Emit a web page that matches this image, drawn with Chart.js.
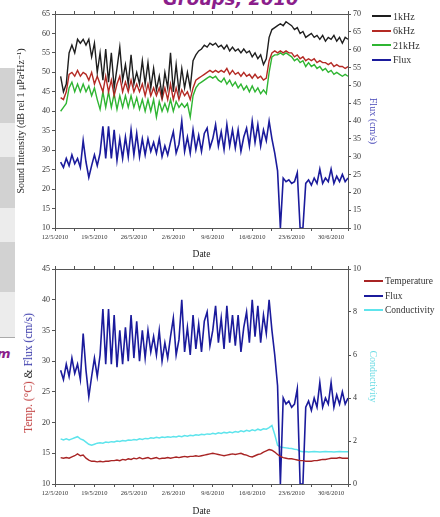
<!DOCTYPE html>
<html>
<head>
<meta charset="utf-8">
<title>Sound intensity, flux, temperature and conductivity</title>
<script src="https://cdn.jsdelivr.net/npm/chart.js@4.4.1/dist/chart.umd.min.js"></script>
<style>
  html, body { margin: 0; padding: 0; background: #fff; }
  body { width: 440px; height: 517px; position: relative; overflow: hidden; font-family: "Liberation Serif", "DejaVu Serif", serif; }
  .wrap { position: absolute; left: 0; width: 440px; }
  #top-wrap { top: 0; height: 260px; }
  #bottom-wrap { top: 260px; height: 257px; }
  .legend { position: absolute; font-size: 10px; color: #333; }
  .legend-row { display: flex; align-items: center; height: 14.5px; white-space: nowrap; }
  .legend-line { display: inline-block; width: 19px; height: 1.6px; margin-right: 2px; }
  #top-legend { left: 372px; top: 9px; }
  #bottom-legend { left: 364px; top: 274px; font-size: 9.5px; }
  #left-title { position: absolute; left: 28px; top: 373px; transform: translate(-50%, -50%) rotate(-90deg);
                white-space: nowrap; font-size: 11.5px; color: #222; }
  .stripe { position: absolute; left: 0; width: 15px; }
  .slide-text { position: absolute; color: #8b1e8b; font-weight: bold; font-style: italic; white-space: nowrap; font-family: "DejaVu Sans", sans-serif; line-height: 1; }
</style>
</head>
<body>
<!-- restos de la diapositiva de fondo -->
<div class="stripe" style="top:68px;height:55px;background:#d2d2d2"></div>
<div class="stripe" style="top:123px;height:34px;background:#ececec"></div>
<div class="stripe" style="top:157px;height:51px;background:#d2d2d2"></div>
<div class="stripe" style="top:208px;height:34px;background:#ececec"></div>
<div class="stripe" style="top:242px;height:50px;background:#d2d2d2"></div>
<div class="stripe" style="top:292px;height:45px;background:#ececec;border-bottom:1px solid #aaa"></div>
<div class="slide-text" style="left:163px;top:-10px;font-size:18px">Groups, 2010</div>
<div class="slide-text" style="left:-3px;top:347px;font-size:13px">m</div>

<div class="wrap" id="top-wrap"><canvas id="chart-sound"></canvas></div>
<div class="wrap" id="bottom-wrap"><canvas id="chart-temp"></canvas></div>
<div class="legend" id="top-legend"></div>
<div class="legend" id="bottom-legend"></div>
<div id="left-title"><span style="color:#c03a3a">Temp. (°C)</span> &amp; <span style="color:#3434a8">Flux (cm/s)</span></div>

<script>
// Etiquetas del eje de fechas (cada 7 días desde 12/5/2010)
const dateLabels = ["12/5/2010", "19/5/2010", "26/5/2010", "2/6/2010", "9/6/2010", "16/6/2010", "23/6/2010", "30/6/2010"];

// días desde 12/5/2010, una lectura cada medio día (1 .. 52)
const days = [];
for (let d = 1; d <= 52; d += 0.5) days.push(d);

// Intensidad sonora (dB rel 1 µPa²Hz⁻¹)
const sound1k = [
  49, 45, 47, 55, 57, 55, 58.5, 57.5, 58.5, 57,
  58.5, 54, 57.5, 50, 55, 48, 56, 47.5, 55, 46,
  51, 56.5, 48, 52, 47, 54.5, 47, 50, 47, 53,
  47, 52.5, 46, 51, 45.5, 49, 44, 50, 46, 55,
  45, 52, 45, 51, 46, 50, 46, 53, 54.5, 55.5,
  56, 57, 56.5, 57.5, 57, 57.5, 56.5, 57, 56, 57,
  55.5, 56.5, 55.5, 56, 55, 56, 55, 55.5, 54, 55,
  53.5, 54.5, 52, 53.5, 59, 61, 61.5, 62, 62.5, 62,
  63, 62.5, 62, 61, 61.5, 60, 60.5, 59, 59.5, 60,
  59, 59.5, 58.5, 59.5, 58, 59, 58.5, 59.5, 58, 59,
  57.5, 59, 58.5,
];
const sound6k = [
  43.5, 43, 45, 49.5, 50, 49, 50.5, 49, 50, 49.5,
  48, 50, 47, 49, 47, 45, 49, 45, 48, 44,
  47, 49, 45, 47.5, 45, 48, 45, 47, 45, 47,
  44, 47, 44, 46, 44, 46, 43, 46, 43, 47,
  43, 46, 43, 45.5, 44, 45, 43, 46, 48, 48.5,
  49, 49.5, 50, 50.5, 50, 50.5, 50, 50.5, 50, 51,
  49.5, 50.5, 49.5, 50, 49, 50, 49, 49.5, 48.5, 49.5,
  48.5, 49, 48, 48.5, 53, 55, 55.5, 55, 55.5, 55,
  55.5, 55, 55, 54, 54.5, 53.5, 54, 53, 53.5, 53,
  53.5, 52.5, 53, 52.5, 52.5, 52, 52.5, 51.5, 52, 51.5,
  51.5, 51, 51.5,
];
const sound21k = [
  40, 41, 42, 46, 47.5, 45, 47, 45, 47, 45,
  46.5, 44, 46, 43, 40.5, 45, 41, 45, 41, 44.5,
  40.5, 44, 41, 44, 41, 44, 41, 43.5, 40.5, 43,
  40, 43, 40, 43, 38.5, 42.5, 40, 42, 40, 43,
  40, 42.5, 41, 42, 41, 42, 38.5, 44, 46, 47,
  47.5, 48, 48.5, 49, 48.5, 49, 48, 47.5, 48.5, 47,
  48, 46.5, 47.5, 46, 47, 45.5, 46.5, 45, 46.5, 45,
  46, 44.5, 45.5, 44.5, 50, 54, 54.5, 54.5, 55, 54.5,
  55, 54.5, 54, 53, 53.5, 52.5, 53, 51.5, 52.5, 51.5,
  52, 51, 51.5, 50.5, 51, 50, 50.5, 49.5, 50, 49.5,
  49, 49.5, 49,
];

// Flujo (cm/s), el mismo registro en las dos gráficas
const flux = [
  28.5, 27, 29.5, 27.5, 30.5, 28, 29.5, 27, 34.5, 28.5,
  24.2, 27.5, 30.5, 27.5, 31, 38.5, 29.5, 38.5, 29.5, 37.5,
  29, 35, 29.5, 35.5, 30, 37.5, 30.5, 36.5, 30, 35,
  30.5, 35, 31.5, 34, 31, 35, 30, 33, 30.5, 34,
  37, 31, 33.5, 40, 31.5, 35.5, 31, 37.5, 32, 36,
  31.5, 36.5, 38, 32.5, 35, 39, 33, 37, 32, 39,
  33, 37.5, 32.5, 37.5, 31.5, 35.5, 38, 33, 40, 34,
  39, 33, 37.5, 34.5, 40, 35, 31, 26, 10, 24,
  23, 23.5, 22.5, 23, 25.5, 10, 10, 22.5, 23.5, 22,
  24, 22.5, 26.5, 22.5, 24, 23, 26.5, 22.5, 24.5, 23,
  25, 23, 24,
];

// Temperatura (°C) y conductividad
const temperature = [
  14.3, 14.2, 14.3, 14.2, 14.4, 14.6, 14.9, 14.6, 14.7, 14.2,
  13.9, 13.7, 13.7, 13.6, 13.7, 13.6, 13.7, 13.7, 13.8, 13.8,
  13.9, 13.8, 14.0, 13.9, 14.1, 14.0, 14.2, 14.1, 14.3, 14.1,
  14.2, 14.3, 14.1, 14.2, 14.3, 14.1, 14.2, 14.2, 14.3, 14.2,
  14.3, 14.4, 14.3, 14.4, 14.5, 14.4, 14.5, 14.5, 14.6, 14.5,
  14.6, 14.7, 14.8, 14.9, 15.0, 14.9, 14.8, 14.7, 14.6, 14.7,
  14.8, 14.9, 14.8, 14.9, 15.0, 14.8, 14.7, 14.5, 14.4, 14.6,
  14.8, 14.9, 15.2, 15.4, 15.6, 15.5, 15.2, 14.8, 14.5, 14.3,
  14.2, 14.1, 14.1, 14.0, 13.9, 13.8, 13.8, 13.7, 13.7, 13.7,
  13.8, 13.8, 13.9, 14.0, 14.0, 14.1, 14.2, 14.2, 14.2, 14.3,
  14.2, 14.2, 14.2,
];
const conductivity = [
  2.1, 2.05, 2.1, 2.05, 2.1, 2.15, 2.2, 2.1, 2.05, 1.95,
  1.85, 1.8, 1.85, 1.9, 1.92, 1.9, 1.95, 1.93, 1.97, 1.95,
  2.0, 1.98, 2.02, 2.0, 2.05, 2.03, 2.07, 2.05, 2.1, 2.07,
  2.12, 2.1, 2.15, 2.13, 2.17, 2.14, 2.18, 2.16, 2.2, 2.17,
  2.21, 2.19, 2.23, 2.2, 2.25, 2.22, 2.27, 2.25, 2.29, 2.27,
  2.31, 2.29, 2.33, 2.31, 2.36, 2.33, 2.38, 2.35, 2.4, 2.37,
  2.42, 2.39, 2.44, 2.41, 2.47, 2.43, 2.5, 2.46, 2.52, 2.48,
  2.55, 2.5, 2.57, 2.55, 2.62, 2.72, 2.3, 1.8, 1.72, 1.7,
  1.68, 1.66, 1.65, 1.62, 1.6, 1.52, 1.5, 1.51, 1.49, 1.5,
  1.51, 1.5, 1.49, 1.5, 1.51, 1.5, 1.5, 1.49, 1.5, 1.51,
  1.5, 1.5, 1.5,
];

const AXIS = "#555";
const TICK = "#333";
const SERIF = "'Liberation Serif', 'DejaVu Serif', serif";

const toPoints = (values) => values.map((v, i) => ({ x: days[i], y: v }));

function line(label, values, color, axis, width = 1.4) {
  return {
    label,
    data: toPoints(values),
    yAxisID: axis,
    borderColor: color,
    backgroundColor: color,
    borderWidth: width,
    pointRadius: 0,
    tension: 0,
    fill: false,
  };
}

// eje de fechas inferior + eje superior sin etiquetas (marco)
function dateAxes(height) {
  return {
    x: {
      type: "linear",
      position: "bottom",
      min: 0,
      max: 52,
      ticks: {
        stepSize: 3.5,
        autoSkip: false,
        maxRotation: 0,
        padding: 2,
        color: TICK,
        font: { family: SERIF, size: 6.5 },
        callback: (v) => (v % 7 === 0 ? dateLabels[v / 7] : ""),
      },
      grid: { drawOnChartArea: false, tickLength: 3, color: AXIS },
      border: { color: AXIS },
      title: { display: true, text: "Date", color: "#222", font: { family: SERIF, size: 9.5 }, padding: { top: 0, bottom: 0 } },
      afterFit: (s) => { s.height = height; },
    },
    xt: {
      type: "linear",
      position: "top",
      min: 0,
      max: 52,
      ticks: { display: false, stepSize: 3.5 },
      grid: { drawOnChartArea: false, tickLength: 3, color: AXIS },
      border: { color: AXIS },
      afterFit: (s) => { s.height = 0; },
    },
  };
}

function valueAxis(position, min, max, step, title, titleColor) {
  return {
    type: "linear",
    position,
    min,
    max,
    ticks: { stepSize: step, padding: 2, color: TICK, font: { family: SERIF, size: 8 } },
    grid: { drawOnChartArea: false, tickLength: 3, color: AXIS },
    border: { color: AXIS },
    title: {
      display: !!title,
      text: title,
      color: titleColor,
      font: { family: SERIF, size: 10 },
      padding: { top: 0, bottom: 2 },
    },
    afterFit: (s) => { s.width = position === "left" ? 40 : 31; },
  };
}

function buildLegend(chart, id) {
  const box = document.getElementById(id);
  chart.data.datasets.forEach((ds) => {
    const row = document.createElement("div");
    row.className = "legend-row";
    row.innerHTML = `<span class="legend-line" style="background:${ds.borderColor}"></span>${ds.label}`;
    box.appendChild(row);
  });
}

const baseOptions = {
  responsive: true,
  maintainAspectRatio: false,
  animation: false,
  plugins: { legend: { display: false }, tooltip: { enabled: false } },
};

// Gráfica superior: intensidad sonora + flujo
const soundChart = new Chart(document.getElementById("chart-sound"), {
  type: "line",
  data: {
    datasets: [
      line("1kHz", sound1k, "#1e1e1e", "y"),
      line("6kHz", sound6k, "#b42a24", "y"),
      line("21kHz", sound21k, "#2fb532", "y"),
      line("Flux", flux, "#1b1b9c", "y1", 1.6),
    ],
  },
  options: {
    ...baseOptions,
    layout: { padding: { left: 15, right: 61, top: 14, bottom: 0 } },
    scales: {
      ...dateAxes(32),
      y: valueAxis("left", 10, 65, 5, "Sound Intensity (dB rel 1 \u03bcPa\u00b2Hz\u207b\u00b9)", "#222"),
      y1: valueAxis("right", 10, 70, 5, "Flux (cm/s)", "#4848b8"),
    },
  },
});

// Gráfica inferior: temperatura, flujo y conductividad
const tempChart = new Chart(document.getElementById("chart-temp"), {
  type: "line",
  data: {
    datasets: [
      line("Temperature", temperature, "#a82424", "y"),
      line("Flux", flux, "#1b1b9c", "y", 1.6),
      line("Conductivity", conductivity, "#5ee4ec", "y1", 1.5),
    ],
  },
  options: {
    ...baseOptions,
    layout: { padding: { left: 15, right: 61, top: 9, bottom: 0 } },
    scales: {
      ...dateAxes(33),
      y: valueAxis("left", 10, 45, 5, "", "#222"),
      y1: valueAxis("right", 0, 10, 2, "Conductivity", "#6adbe4"),
    },
  },
});

buildLegend(soundChart, "top-legend");
buildLegend(tempChart, "bottom-legend");
</script>
</body>
</html>
